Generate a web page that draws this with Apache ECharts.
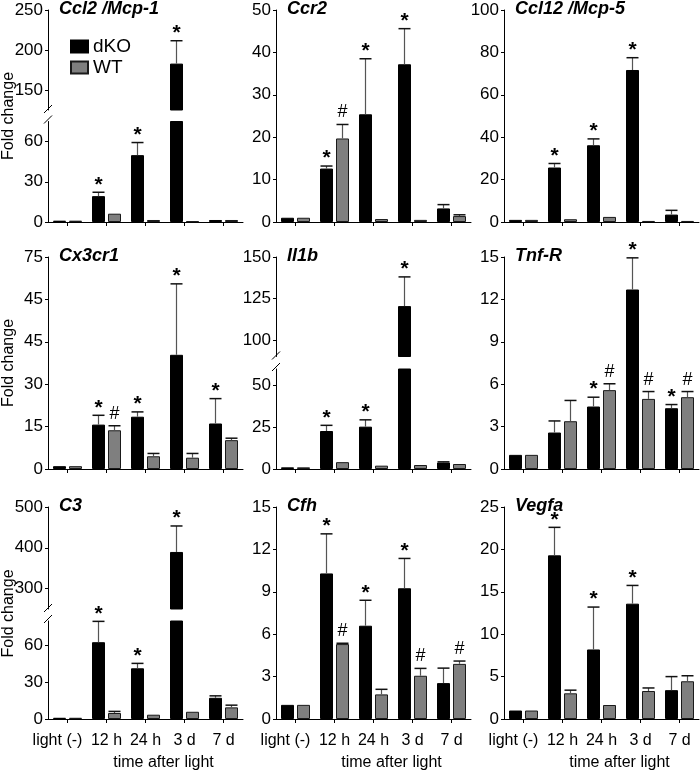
<!DOCTYPE html>
<html><head><meta charset="utf-8">
<script src="https://cdn.jsdelivr.net/npm/echarts@6/dist/echarts.min.js"></script>
<style>html,body{margin:0;padding:0;background:#fff}#c{width:700px;height:772px}</style>
</head><body><div id="c"></div>
<script>
// ---------- DATA ----------
const categories = ['light (-)', '12 h', '24 h', '3 d', '7 d'];
const legendNames = ['dKO', 'WT'];

const ccl2_dKO = [1, 19.3, 49.9, 183, 1.5];
const ccl2_dKOErr = [null, 22.2, 59.3, 211.6, null];
const ccl2_WT = [1, 6.2, 1.5, 0.5, 1.5];
const ccl2_WTErr = [null, null, null, null, null];
const ccl2_dKOSig = ['', '*', '*', '*', ''];
const ccl2_WTSig = ['', '', '', '', ''];
const ccl2_ticksLow = [0, 30, 60];
const ccl2_ticksHigh = [150, 200, 250];

const ccr2_dKO = [1, 12.6, 25.4, 37.2, 3.2];
const ccr2_dKOErr = [null, 13.2, 38.5, 45.6, 4.1];
const ccr2_WT = [1, 19.7, 0.7, 0.5, 1.4];
const ccr2_WTErr = [null, 23.0, null, null, 1.7];
const ccr2_dKOSig = ['', '*', '*', '*', ''];
const ccr2_WTSig = ['', '#', '', '', ''];
const ccr2_ticks = [0, 10, 20, 30, 40, 50];

const ccl12_dKO = [1, 25.7, 36.2, 71.7, 3.5];
const ccl12_dKOErr = [null, 27.6, 39.2, 77.5, 5.5];
const ccl12_WT = [1, 1.3, 2.4, 0.5, 0.5];
const ccl12_WTErr = [null, null, null, null, null];
const ccl12_dKOSig = ['', '*', '*', '*', ''];
const ccl12_WTSig = ['', '', '', '', ''];
const ccl12_ticks = [0, 20, 40, 60, 80, 100];

const cx3cr1_dKO = [1, 15.7, 18.5, 40.4, 16.1];
const cx3cr1_dKOErr = [null, 19.0, 20.2, 65.5, 24.9];
const cx3cr1_WT = [1, 13.7, 4.5, 4.0, 10.2];
const cx3cr1_WTErr = [null, 15.3, 5.5, 5.5, 10.9];
const cx3cr1_dKOSig = ['', '*', '*', '*', '*'];
const cx3cr1_WTSig = ['', '#', '', '', ''];
const cx3cr1_ticks = [0, 15, 30, 45, 60, 75];
const cx3cr1_tickLabels = ['0', '15', '30', '45', '45', '75'];

const il1b_dKO = [1, 22.8, 25.4, 120.4, 3.9];
const il1b_dKOErr = [null, 26.2, 29.5, 138, 4.3];
const il1b_WT = [1, 4.1, 2.0, 2.4, 3.0];
const il1b_WTErr = [null, null, null, null, null];
const il1b_dKOSig = ['', '*', '*', '*', ''];
const il1b_WTSig = ['', '', '', '', ''];
const il1b_ticksLow = [0, 25, 50];
const il1b_ticksHigh = [100, 125, 150];

const tnfr_dKO = [1, 2.58, 4.42, 12.7, 4.3];
const tnfr_dKOErr = [null, 3.4, 5.08, 14.94, 4.56];
const tnfr_WT = [1, 3.38, 5.58, 4.96, 5.08];
const tnfr_WTErr = [null, 4.85, 6.03, 5.48, 5.48];
const tnfr_dKOSig = ['', '', '*', '*', '*'];
const tnfr_WTSig = ['', '', '#', '#', '#'];
const tnfr_ticks = [0, 3, 6, 9, 12, 15];

const c3_dKO = [1, 62.7, 41.4, 389.8, 17.3];
const c3_dKOErr = [null, 79.7, 45.4, 453.5, 18.9];
const c3_WT = [1, 4.9, 3.5, 5.9, 9.5];
const c3_WTErr = [null, 6.2, null, null, 11.3];
const c3_dKOSig = ['', '*', '*', '*', ''];
const c3_WTSig = ['', '', '', '', ''];
const c3_ticksLow = [0, 30, 60];
const c3_ticksHigh = [300, 400, 500];

const cfh_dKO = [1, 10.3, 6.6, 9.25, 2.54];
const cfh_dKOErr = [null, 13.1, 8.4, 11.36, 3.6];
const cfh_WT = [1, 5.3, 1.74, 3.06, 3.9];
const cfh_WTErr = [null, 5.36, 2.1, 3.58, 4.1];
const cfh_dKOSig = ['', '*', '*', '*', ''];
const cfh_WTSig = ['', '#', '', '#', '#'];
const cfh_ticks = [0, 3, 6, 9, 12, 15];

const vegfa_dKO = [1, 19.3, 8.2, 13.6, 3.4];
const vegfa_dKOErr = [null, 22.6, 13.2, 15.75, 5.0];
const vegfa_WT = [1, 3.03, 1.65, 3.3, 4.45];
const vegfa_WTErr = [null, 3.4, null, 3.66, 5.1];
const vegfa_dKOSig = ['', '*', '*', '*', ''];
const vegfa_WTSig = ['', '', '', '', ''];
const vegfa_ticks = [0, 5, 10, 15, 20, 25];

const yAxisTitle = 'Fold change';
const xAxisTitle = 'time after light';

// ---------- LAYOUT ----------
const FONT = "'Liberation Sans', Arial, Helvetica, sans-serif";
const COL_LEFT = [48, 276, 504];
const PANEL_W = 195;
const ROWS = [{top: 10, bottom: 222}, {top: 257, bottom: 469}, {top: 507, bottom: 720}];
const BAR_W = 13, BAR_GAP = 3;
const DKO_COLOR = '#000000', WT_COLOR = '#7f7f7f';

function seg(min, max, ticks, top, bottom, showX, labels) {
  return {min, max, ticks, top, height: bottom - top, showX, labels};
}

const panels = [
  {name: 'Ccl2 /Mcp-1', col: 0, row: 0, d: ccl2_dKO, de: ccl2_dKOErr, w: ccl2_WT, we: ccl2_WTErr, ds: ccl2_dKOSig, ws: ccl2_WTSig,
   segs: [seg(0, 75, ccl2_ticksLow, 121.5, 222, true), seg(125, 250, ccl2_ticksHigh, 10, 110, false)]},
  {name: 'Ccr2', col: 1, row: 0, d: ccr2_dKO, de: ccr2_dKOErr, w: ccr2_WT, we: ccr2_WTErr, ds: ccr2_dKOSig, ws: ccr2_WTSig,
   segs: [seg(0, 50, ccr2_ticks, 10, 222, true)]},
  {name: 'Ccl12 /Mcp-5', col: 2, row: 0, d: ccl12_dKO, de: ccl12_dKOErr, w: ccl12_WT, we: ccl12_WTErr, ds: ccl12_dKOSig, ws: ccl12_WTSig,
   segs: [seg(0, 100, ccl12_ticks, 10, 222, true)]},
  {name: 'Cx3cr1', col: 0, row: 1, d: cx3cr1_dKO, de: cx3cr1_dKOErr, w: cx3cr1_WT, we: cx3cr1_WTErr, ds: cx3cr1_dKOSig, ws: cx3cr1_WTSig,
   segs: [seg(0, 75, cx3cr1_ticks, 257, 469, true, cx3cr1_tickLabels)]},
  {name: 'Il1b', col: 1, row: 1, d: il1b_dKO, de: il1b_dKOErr, w: il1b_WT, we: il1b_WTErr, ds: il1b_dKOSig, ws: il1b_WTSig,
   segs: [seg(0, 60, il1b_ticksLow, 369, 469, true), seg(90, 150, il1b_ticksHigh, 257, 356.5, false)]},
  {name: 'Tnf-R', col: 2, row: 1, d: tnfr_dKO, de: tnfr_dKOErr, w: tnfr_WT, we: tnfr_WTErr, ds: tnfr_dKOSig, ws: tnfr_WTSig,
   segs: [seg(0, 15, tnfr_ticks, 257, 469, true)]},
  {name: 'C3', col: 0, row: 2, d: c3_dKO, de: c3_dKOErr, w: c3_WT, we: c3_WTErr, ds: c3_dKOSig, ws: c3_WTSig,
   segs: [seg(0, 80, c3_ticksLow, 621, 720, true), seg(250, 500, c3_ticksHigh, 507, 609, false)]},
  {name: 'Cfh', col: 1, row: 2, d: cfh_dKO, de: cfh_dKOErr, w: cfh_WT, we: cfh_WTErr, ds: cfh_dKOSig, ws: cfh_WTSig,
   segs: [seg(0, 15, cfh_ticks, 507, 720, true)]},
  {name: 'Vegfa', col: 2, row: 2, d: vegfa_dKO, de: vegfa_dKOErr, w: vegfa_WT, we: vegfa_WTErr, ds: vegfa_dKOSig, ws: vegfa_WTSig,
   segs: [seg(0, 25, vegfa_ticks, 507, 720, true)]}
];

function errRender(vals, errs, sigs, side, lo, hi) {
  return function (params, api) {
    const i = params.dataIndex;
    const v = vals[i], e = errs[i], s = sigs[i];
    const cx = api.coord([i, lo])[0] + side * (BAR_W / 2 + BAR_GAP / 2);
    const yOf = val => api.coord([i, val])[1];
    const children = [];
    if (e != null && e > v && e >= lo && e <= hi) {
      const yTop = yOf(e), yBot = yOf(Math.max(v, lo));
      children.push({type: 'line', shape: {x1: cx, y1: yBot, x2: cx, y2: yTop}, style: {stroke: '#555', lineWidth: 1.2}});
      children.push({type: 'line', shape: {x1: cx - 6, y1: yTop, x2: cx + 6, y2: yTop}, style: {stroke: '#111', lineWidth: 1.5}});
    }
    const top = (e != null ? e : v);
    if (s && top >= lo && top <= hi) {
      const isStar = s === '*';
      children.push({type: 'text', style: {
        text: s, x: cx, y: yOf(top) + (isStar ? 3 : -3), align: 'center', verticalAlign: 'bottom',
        fontFamily: FONT, fontSize: isStar ? 21 : 18, fontWeight: isStar ? 'bold' : 'normal', fill: '#000'
      }});
    }
    return {type: 'group', children};
  };
}

const grid = [], xAxis = [], yAxis = [], series = [], title = [], graphic = [];
panels.forEach(p => {
  const left = COL_LEFT[p.col];
  title.push({text: p.name, left: left + 11, top: ROWS[p.row].top - 10, padding: 0,
    textStyle: {fontSize: 18, fontWeight: 'bold', fontStyle: 'italic', fontFamily: FONT, color: '#000'}});
  p.segs.forEach(s => {
    const gi = grid.length;
    grid.push({left: left, top: s.top, width: PANEL_W, height: s.height});
    const bottomRow = p.row === 2;
    xAxis.push({
      type: 'category', gridIndex: gi, data: categories, show: s.showX,
      axisLine: {lineStyle: {color: '#000', width: 1}},
      axisTick: {show: true, alignWithLabel: true, length: 4, lineStyle: {color: '#000'}},
      axisLabel: {show: bottomRow, fontSize: 16, color: '#000', fontFamily: FONT, margin: 14, interval: 0,
        formatter: (v, i) => i === 0 ? '{a|' + v + '}' : v,
        rich: {a: {fontSize: 16, fontFamily: FONT, color: '#000', padding: [0, 20, 0, 0]}}},
      name: bottomRow ? xAxisTitle : '', nameLocation: 'middle', nameGap: 36,
      nameTextStyle: {fontSize: 16, color: '#000', fontFamily: FONT, padding: [0, 0, 0, 36]},
      splitLine: {show: false}
    });
    const labels = s.labels;
    yAxis.push({
      type: 'value', gridIndex: gi, min: s.min, max: s.max,
      axisLine: {show: true, lineStyle: {color: '#000', width: 1}},
      axisTick: {show: true, length: 3, customValues: s.ticks, lineStyle: {color: '#000'}},
      axisLabel: {fontSize: 17, color: '#000', fontFamily: FONT, margin: 5, customValues: s.ticks,
        formatter: v => labels ? labels[s.ticks.indexOf(v)] : String(v)},
      splitLine: {show: false}
    });
    series.push({type: 'bar', name: legendNames[0], xAxisIndex: gi, yAxisIndex: gi, data: p.d, barWidth: BAR_W,
      barGap: (BAR_GAP / BAR_W * 100) + '%', clip: true,
      itemStyle: {color: DKO_COLOR, borderColor: '#000', borderWidth: 1}});
    series.push({type: 'bar', name: legendNames[1], xAxisIndex: gi, yAxisIndex: gi, data: p.w, barWidth: BAR_W, clip: true,
      itemStyle: {color: WT_COLOR, borderColor: '#1a1a1a', borderWidth: 1}});
    series.push({type: 'custom', name: 'errD', xAxisIndex: gi, yAxisIndex: gi, z: 5,
      data: p.d.map((v, i) => [i, v]), renderItem: errRender(p.d, p.de, p.ds, -1, s.min, s.max)});
    series.push({type: 'custom', name: 'errW', xAxisIndex: gi, yAxisIndex: gi, z: 5,
      data: p.w.map((v, i) => [i, v]), renderItem: errRender(p.w, p.we, p.ws, 1, s.min, s.max)});
  });
  if (p.segs.length === 2) {
    const ub = p.segs[1].top + p.segs[1].height, lt = p.segs[0].top;
    graphic.push({type: 'line', shape: {x1: left - 4, y1: ub + 3, x2: left + 4, y2: ub - 5}, style: {stroke: '#000', lineWidth: 1}});
    graphic.push({type: 'line', shape: {x1: left - 4, y1: lt + 2, x2: left + 4, y2: lt - 6}, style: {stroke: '#000', lineWidth: 1}});
  }
});

// Y axis titles (left column)
ROWS.forEach(r => {
  graphic.push({type: 'text', x: 9, y: (r.top + r.bottom) / 2, rotation: Math.PI / 2,
    style: {text: yAxisTitle, align: 'center', verticalAlign: 'middle', fontSize: 16, fontFamily: FONT, fill: '#000'}});
});

const chart = echarts.init(document.getElementById('c'), null, {renderer: 'canvas'});
chart.setOption({
  animation: false,
  backgroundColor: '#fff',
  title, grid, xAxis, yAxis, series, graphic,
  legend: {data: legendNames, orient: 'vertical', left: 70, top: 37, padding: 0, itemWidth: 17, itemHeight: 12, itemGap: 2,
    icon: 'rect', textStyle: {fontSize: 19, fontFamily: FONT, color: '#000'}, selectedMode: false}
});
</script></body></html>
